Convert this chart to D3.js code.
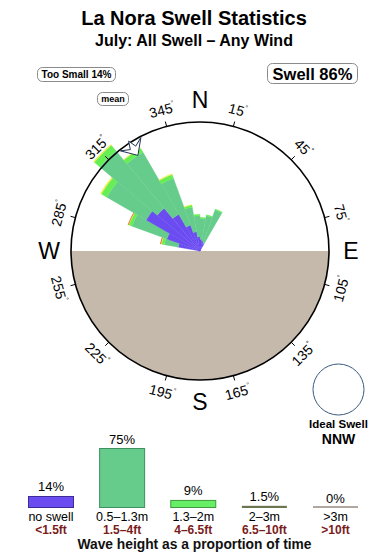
<!DOCTYPE html>
<html><head><meta charset="utf-8">
<script src="https://cdn.jsdelivr.net/npm/d3@7"></script>
<style>body{margin:0;background:#fff} svg{display:block;font-family:"Liberation Sans",Arial,Helvetica,sans-serif}</style>
</head><body><svg id="c" width="390" height="560"></svg>
<script>
// ---- DATA ----
const directions = [280, 290, 300, 310, 320, 330, 340, 350, 0, 10, 20]; // bin start bearing (10° bins)
const binWidth = 10;
const noSwell   = [0.7, 1.8, 5.6, 4.5, 2.6, 1.1, 0.55, 0.3, 0.2, 0.15, 0.1];
const h05to13   = [1.2, 5.8, 11.2, 20.3, 16.2, 7.6, 2.3, 1.5, 1.35, 1.7, 2.7];
const h13to2    = [0.3, 0.7, 2.0, 2.8, 1.6, 0.9, 0.3, 0.15, 0.1, 0.1, 0.1];
const h2to3     = [0.1, 0.15, 0.4, 0.4, 0.2, 0.2, 0.05, 0, 0, 0, 0];
const h3plus    = [0.04, 0.04, 0, 0, 0, 0, 0, 0, 0, 0, 0];
const seriesList = [noSwell, h05to13, h13to2, h2to3, h3plus];
const seriesColors = ["#6a4cf0", "#66cc8c", "#66ee55", "#eeee44", "#dd3322"];

const classLabels = ["no swell", "0.5–1.3m", "1.3–2m", "2–3m", ">3m"];
const classFeet   = ["<1.5ft", "1.5–4ft", "4–6.5ft", "6.5–10ft", ">10ft"];
const classPct    = [14, 75, 9, 1.5, 0];
const pctLabels   = ["14%", "75%", "9%", "1.5%", "0%"];
const legendFill   = ["#6a4cf0", "#66cc8c", "#66ee66", "#6b7550", "#b0a8a0"];
const legendStroke = ["#3c2a99", "#3f8f5f", "#3f9a3f", "#6b7550", "#b0a8a0"];

const tickDegrees = [15, 45, 75, 105, 135, 165, 195, 225, 255, 285, 315, 345];
const compass = [["N", 0], ["E", 90], ["S", 180], ["W", 270]];
const meanDirection = 327;

// ---- DRAW ----
const svg = d3.select("#c");
const cx = 200, cy = 251, R = 129;
const rad = d => d * Math.PI / 180;

svg.append("text").attr("x", 194).attr("y", 25).attr("text-anchor", "middle")
  .attr("font-size", 20).attr("font-weight", "bold").text("La Nora Swell Statistics");
svg.append("text").attr("x", 194).attr("y", 46).attr("text-anchor", "middle")
  .attr("font-size", 16).attr("font-weight", "bold").text("July: All Swell – Any Wind");

function box(x, y, w, h, txt, fs, tx, ty) {
  svg.append("rect").attr("x", x).attr("y", y).attr("width", w).attr("height", h)
    .attr("rx", 5).attr("fill", "#fff").attr("stroke", "#8a8a8a").attr("stroke-width", 1);
  svg.append("text").attr("x", tx).attr("y", ty).attr("text-anchor", "middle")
    .attr("font-size", fs).attr("font-weight", "bold").text(txt);
}
box(37.5, 67.5, 78, 14, "Too Small 14%", 10, 76.5, 78.3);
box(97.5, 92.5, 31, 13, "mean", 9, 113, 102.3);
box(267.5, 63.5, 90, 20, "Swell 86%", 16.5, 312.5, 79.5);

const g = svg.append("g").attr("transform", `translate(${cx},${cy})`);
const rScale = d3.scaleSqrt().domain([0, 24.1]).range([0, R]);

// land (lower half)
g.append("path").attr("d", d3.arc()({innerRadius: 0, outerRadius: R, startAngle: rad(90), endAngle: rad(270)}))
  .attr("fill", "#c4b9ab");

// stacked rose wedges
const arc = d3.arc();
directions.forEach((dir, i) => {
  let c0 = 0;
  seriesList.forEach((s, k) => {
    const v = s[i];
    if (v <= 0) return;
    const c1 = c0 + v;
    g.append("path").attr("d", arc({innerRadius: rScale(c0), outerRadius: rScale(c1),
        startAngle: rad(dir), endAngle: rad(dir + binWidth)}))
      .attr("fill", seriesColors[k]).attr("stroke", seriesColors[k]).attr("stroke-width", 0.3);
    c0 = c1;
  });
});

// circle
g.append("circle").attr("r", R).attr("fill", "none").attr("stroke", "#000").attr("stroke-width", 1.6);

// ticks and degree labels
tickDegrees.forEach(d => {
  const a = rad(d);
  g.append("line").attr("x1", Math.sin(a) * R).attr("y1", -Math.cos(a) * R)
    .attr("x2", Math.sin(a) * (R + 5)).attr("y2", -Math.cos(a) * (R + 5))
    .attr("stroke", "#000").attr("stroke-width", 1);
  const lr = 146;
  const x = Math.sin(a) * lr, y = -Math.cos(a) * lr;
  const rot = (d < 90) ? d : (d > 270 ? d - 360 : d - 180);
  const t = g.append("text").attr("transform", `translate(${x},${y}) rotate(${rot})`)
    .attr("text-anchor", "middle").attr("dominant-baseline", "central").attr("font-size", 14);
  t.append("tspan").text(d);
  t.append("tspan").attr("font-size", 7).attr("dy", -5).text("°");
});

// compass letters
compass.forEach(([l, d]) => {
  const a = rad(d), lr = 151;
  g.append("text").attr("x", Math.sin(a) * lr).attr("y", -Math.cos(a) * lr)
    .attr("text-anchor", "middle").attr("dominant-baseline", "central")
    .attr("font-size", 23).text(l);
});

// mean direction arrow
const P = (r, b) => [Math.sin(rad(b)) * r, -Math.cos(rad(b)) * r];
const arrowPts = [P(128, meanDirection - 5.5), P(123, meanDirection - 1.5), P(131, meanDirection),
                  P(123, meanDirection + 1.5), P(128, meanDirection + 5.5), P(114, meanDirection)];
g.append("path").attr("d", d3.line()(arrowPts) + "Z")
  .attr("fill", "#fff").attr("stroke", "#223355").attr("stroke-width", 1);

// ideal swell
svg.append("circle").attr("cx", 338.5).attr("cy", 389.5).attr("r", 25.5)
  .attr("fill", "#fff").attr("stroke", "#3a5a80").attr("stroke-width", 1);
svg.append("text").attr("x", 338.5).attr("y", 428).attr("text-anchor", "middle")
  .attr("font-size", 11.5).attr("font-weight", "bold").text("Ideal Swell");
svg.append("text").attr("x", 338.5).attr("y", 444).attr("text-anchor", "middle")
  .attr("font-size", 14).attr("font-weight", "bold").text("NNW");

// legend bars
const xL = d3.scalePoint().domain(classLabels).range([51, 335.5]);
const hL = d3.scaleLinear().domain([0, 75]).range([0, 59]);
const barBottom = 507.5, barW = 45;
classLabels.forEach((c, i) => {
  const h = hL(classPct[i]);
  const x = xL(c);
  if (h > 1.5) {
    svg.append("rect").attr("x", x - barW / 2).attr("y", barBottom - h).attr("width", barW).attr("height", h)
      .attr("fill", legendFill[i]).attr("stroke", legendStroke[i]).attr("stroke-width", 1);
  } else {
    svg.append("rect").attr("x", x - barW / 2).attr("y", barBottom - Math.max(h, 1) - 0.5).attr("width", barW)
      .attr("height", Math.max(h, 1) + 1).attr("fill", legendStroke[i]);
  }
  svg.append("text").attr("x", x).attr("y", barBottom - h - 5).attr("text-anchor", "middle")
    .attr("font-size", 13).text(pctLabels[i]);
  svg.append("text").attr("x", x).attr("y", 520.5).attr("text-anchor", "middle")
    .attr("font-size", 12.5).text(c);
  svg.append("text").attr("x", x).attr("y", 533.5).attr("text-anchor", "middle")
    .attr("font-size", 12).attr("font-weight", "bold").attr("fill", "#7a1c1c").text(classFeet[i]);
});
svg.append("text").attr("x", 194.5).attr("y", 549).attr("text-anchor", "middle")
  .attr("font-size", 13.8).attr("font-weight", "bold").attr("fill", "#111").text("Wave height as a proportion of time");
</script></body></html>
